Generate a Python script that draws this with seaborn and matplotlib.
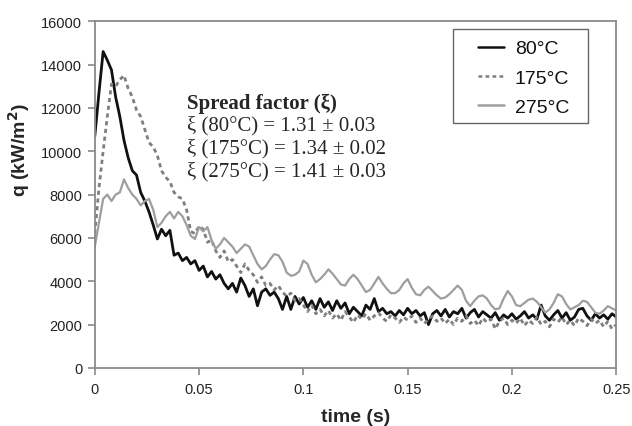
import numpy as np
import pandas as pd
import matplotlib
matplotlib.use("Agg")
import matplotlib.pyplot as plt
from matplotlib.lines import Line2D
from matplotlib.patches import Rectangle
from matplotlib.legend_handler import HandlerLine2D
from matplotlib.ticker import FuncFormatter, MultipleLocator
import seaborn as sns

# sampling grid of the heat-flux traces (s)
time_s = np.linspace(0.0, 0.25, 126)

# heat flux q (kW/m2), one value every 2 ms
q_80 = [
    10700, 12700, 14600, 14200, 13750, 12500, 11600, 10500, 9700, 9100,
    8900, 8100, 7700, 7200, 6600, 5950, 6400, 6100, 6350, 5200,
    5300, 4950, 5100, 4800, 4950, 4500, 4700, 4200, 4450, 4100,
    4300, 3900, 3650, 3900, 3500, 4150, 3800, 3300, 3650, 2870,
    3500, 3650, 3350, 3500, 3200, 2700, 3300, 2700, 3300, 2950,
    3250, 2800, 3100, 2700, 3200, 2800, 3050, 2650, 3100, 2750,
    3000, 2500, 2800, 2600, 2400, 2900, 2700, 3200, 2600, 2750,
    2500, 2600, 2400, 2650, 2450, 2750, 2500, 2650, 2400, 2550,
    2000, 2500, 2650, 2400, 2700, 2350, 2600, 2500, 2750, 2300,
    2550, 2700, 2350, 2600, 2450, 2300, 2550, 2200, 2450, 2300,
    2500, 2250, 2400, 2600, 2300, 2450, 2250, 2900, 2400, 2200,
    2450, 2650, 2300, 2550, 2200, 2350, 2700, 2750, 2400, 2200,
    2500, 2300, 2450, 2250, 2500, 2350,
]
q_175 = [
    6200, 8300, 10000, 11600, 13100, 13000, 13300, 13500, 12900, 12500,
    11900, 11600, 11000, 10400, 10200, 9800, 9100, 8800, 8600, 8100,
    7900, 7800, 7300, 6300, 6200, 6550, 6400, 5800, 5900, 5400,
    5100, 5400, 4900, 5000, 4700, 4400, 4800, 4500, 4300, 3950,
    4200, 3800, 3900, 3600, 3800, 3500, 3300, 3450, 3100, 3200,
    2900, 2600, 2900, 2500, 2700, 2400, 2650, 2300, 2500, 2200,
    2600, 2350, 2100, 2450, 2250, 2500, 2200, 2400, 2550, 2300,
    2150, 2450, 2300, 2100, 2350, 2200, 2400, 2100, 2300, 2050,
    2250, 2400, 2150, 2300, 2050, 2250, 2000, 2300, 2150, 2400,
    2050, 2200, 1950, 2300, 2100, 2250, 1800, 2150, 2300, 2000,
    2200, 2050, 2300, 1950, 2200, 2050, 2350, 2000, 2150, 1900,
    2250, 2100, 2350, 2000, 2200, 1950, 2300, 2150, 1950, 2250,
    2050, 2200, 1900, 2150, 1800, 2000,
]
q_275 = [
    5600, 6700, 7800, 8000, 7700, 8000, 8100, 8700, 8300, 8000,
    7800, 7500, 7700, 7800, 7300, 6500, 6700, 7000, 7200, 6900,
    7200, 7000, 6600, 6100, 5950, 6500, 6300, 6500, 5900, 5500,
    5700, 6000, 5800, 5600, 5300, 5500, 5700, 5600, 5200, 4800,
    4550, 4700, 5000, 5250, 5200, 4900, 4400, 4250, 4300, 4450,
    4950, 4800, 4300, 3950, 4100, 4300, 4550, 4350, 4100, 3850,
    3800, 4100, 4300, 4100, 3800, 3500, 3600, 3900, 4200, 3900,
    3650, 3450, 3450, 3600, 3900, 4100, 3700, 3400, 3350, 3600,
    3750, 3550, 3350, 3200, 3250, 3400, 3600, 3800, 3600, 3100,
    2850, 3100, 3300, 3350, 3200, 2900, 2700, 2750, 3200, 3550,
    3300, 2900, 2850, 3000, 3150, 3200, 3050, 2800, 2550, 2700,
    3000, 3400, 3300, 2950, 2700, 2800, 2900, 3100, 3050, 2800,
    2550, 2500, 2650, 2850, 2750, 2650,
]

series_labels = ["80°C", "175°C", "275°C"]
annotation_lines = [
    "ξ (80°C) = 1.31 ± 0.03",
    "ξ (175°C) = 1.34 ± 0.02",
    "ξ (275°C) = 1.41 ± 0.03",
]

df = pd.concat(
    [
        pd.DataFrame({"time": time_s, "q": vals, "temp": lab})
        for lab, vals in zip(series_labels, [q_80, q_175, q_275])
    ],
    ignore_index=True,
)

sns.set_style("white")
plt.rcParams["font.family"] = ["Liberation Sans", "DejaVu Sans"]

fig = plt.figure(figsize=(6.32, 4.27), dpi=100)
ax = fig.add_axes([0.150, 0.136, 0.825, 0.812])

palette = {"80°C": "#111111", "175°C": "#7f7f7f", "275°C": "#9e9e9e"}
dashes = {"80°C": "", "175°C": (1.5, 1.3), "275°C": ""}
sns.lineplot(
    data=df, x="time", y="q", hue="temp", style="temp",
    hue_order=series_labels, style_order=series_labels,
    palette=palette, dashes=dashes, ax=ax, linewidth=1.8,
)
for line, lw in zip(ax.lines, [2.0, 2.0, 1.6]):
    line.set_linewidth(lw)

ax.set_xlim(0, 0.25)
ax.set_ylim(0, 16000)
ax.xaxis.set_major_locator(MultipleLocator(0.05))
ax.yaxis.set_major_locator(MultipleLocator(2000))
ax.xaxis.set_major_formatter(FuncFormatter(lambda v, _: f"{v:g}"))
ax.yaxis.set_major_formatter(FuncFormatter(lambda v, _: f"{v:.0f}"))

for sp in ax.spines.values():
    sp.set_visible(True)
    sp.set_color("#8a8a8a")
    sp.set_linewidth(1.3)
ax.tick_params(axis="both", which="major", direction="out", length=5,
               width=1.2, color="#8a8a8a", labelsize=10.5,
               labelcolor="#222222", bottom=True, left=True, pad=4)
ax.tick_params(axis="x", pad=5)

ax.set_xlabel("time (s)", fontsize=14, fontweight="bold", labelpad=9)
ax.set_ylabel("q (kW/m$^\\mathbf{2}$)", fontsize=14, fontweight="bold")
ax.yaxis.set_label_coords(-0.121, 0.63)

# spread factor annotation
serif = ["Liberation Serif", "DejaVu Serif"]
ax.text(0.177, 0.764, "Spread factor (ξ)", transform=ax.transAxes,
        fontsize=15, fontweight="bold", family=serif, va="center", ha="left")
for k, txt in enumerate(annotation_lines):
    ax.text(0.177, 0.700 - 0.066 * k, txt, transform=ax.transAxes,
            fontsize=15, family=serif, va="center", ha="left")

# legend: frameless legend inside a plain box (box is wider than the
# default legend frame, like in the original figure)
leg_box = (0.687, 0.706, 0.259, 0.271)
ax.add_patch(Rectangle(leg_box[:2], leg_box[2], leg_box[3],
                       transform=ax.transAxes, fill=False,
                       edgecolor="#666666", linewidth=1.0, zorder=5))
leg = ax.legend(loc="upper left", bbox_to_anchor=(leg_box[0], leg_box[1] + leg_box[3]),
                fontsize=14, frameon=False,
                handlelength=2.06, handletextpad=0.57, labelspacing=0.6,
                borderpad=0.55, borderaxespad=0.0, title=None,
                handler_map={Line2D: HandlerLine2D(xpad=0.72)})
for text in leg.get_texts():
    text.set_color("#111111")

fig.savefig("out.png", dpi=100)
